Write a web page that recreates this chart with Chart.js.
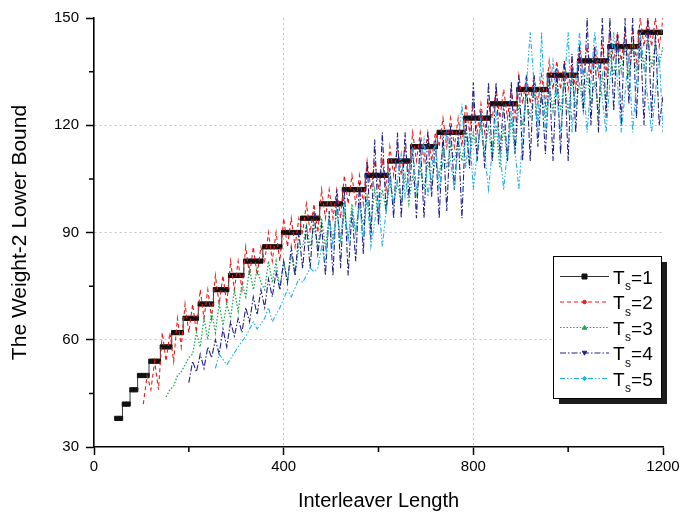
<!DOCTYPE html>
<html><head><meta charset="utf-8">
<script src="https://cdn.jsdelivr.net/npm/chart.js@4.4.1/dist/chart.umd.min.js"></script>
<style>html,body{margin:0;padding:0;background:#fff;}canvas{display:block;}</style>
</head><body>
<canvas id="c" width="683" height="520"></canvas>
<script>
// Interleaver lengths (x categories shared by all series)
const lengths = [
  40,48,56,64,72,80,88,96,104,112,
  120,128,136,144,152,160,168,176,184,192,
  200,208,216,224,232,240,248,256,264,272,
  280,288,296,304,312,320,328,336,344,352,
  360,368,376,384,392,400,408,416,424,432,
  440,448,456,464,472,480,488,496,504,512,
  520,528,536,544,552,560,568,576,584,592,
  600,608,616,624,632,640,648,656,664,672,
  680,688,696,704,712,720,728,736,744,752,
  760,768,776,784,792,800,808,816,824,832,
  840,848,856,864,872,880,888,896,904,912,
  920,928,936,944,952,960,968,976,984,992,
  1000,1008,1016,1024,1032,1040,1048,1056,1064,1072,
  1080,1088,1096,1104,1112,1120,1128,1136,1144,1152,
  1160,1168,1176,1184,1192,1200
];
const _ = null;
// T_s = 1
const ts1 = [
  _,38,38,42,42,46,46,50,50,50,
  54,54,54,58,58,58,62,62,62,66,
  66,66,66,70,70,70,70,74,74,74,
  74,78,78,78,78,82,82,82,82,82,
  86,86,86,86,86,90,90,90,90,90,
  94,94,94,94,94,98,98,98,98,98,
  98,102,102,102,102,102,102,106,106,106,
  106,106,106,110,110,110,110,110,110,114,
  114,114,114,114,114,114,118,118,118,118,
  118,118,118,122,122,122,122,122,122,122,
  126,126,126,126,126,126,126,130,130,130,
  130,130,130,130,130,134,134,134,134,134,
  134,134,134,138,138,138,138,138,138,138,
  138,142,142,142,142,142,142,142,142,146,
  146,146,146,146,146,146
];
// T_s = 2
const ts2 = [
  _,_,_,_,_,_,_,_,42,50,
  46,54,46,62,54,62,54,66,58,70,
  62,70,62,74,66,74,66,78,70,78,
  70,82,74,82,74,86,78,86,78,86,
  82,90,82,90,82,94,86,94,86,94,
  90,98,90,98,90,102,94,102,94,102,
  94,106,98,106,98,106,98,110,102,110,
  102,110,102,114,106,114,106,114,106,118,
  110,118,110,118,110,118,114,122,114,122,
  114,122,114,126,118,126,118,126,118,126,
  122,130,122,130,122,130,122,134,126,134,
  126,134,126,134,126,138,130,138,130,138,
  130,138,130,142,134,142,134,142,134,142,
  134,146,138,146,138,146,138,146,138,150,
  142,150,142,150,142,150
];
// T_s = 3
const ts3 = [
  _,_,_,_,_,_,_,_,_,_,
  _,_,_,_,44,46,47,50,51,53,
  55,56,62,58,66,60,68,62,70,64,
  70,66,74,68,76,72,80,74,80,76,
  74,82,76,82,74,82,76,84,78,86,
  86,92,86,92,86,94,86,94,88,96,
  88,96,88,98,90,98,92,100,92,102,
  94,102,96,104,98,104,98,106,98,106,
  100,108,102,110,104,110,106,114,108,114,
  110,116,110,118,110,118,112,120,112,120,
  110,120,108,120,110,122,112,126,120,128,
  122,130,122,128,122,132,124,133,124,132,
  124,133,125,132,124,134,126,132,124,134,
  126,140,134,142,135,142,134,142,135,143,
  136,144,136,143,137,142
];
// T_s = 4
const ts4 = [
  _,_,_,_,_,_,_,_,_,_,
  _,_,_,_,_,_,_,_,_,_,
  48,54,51,56,52,58,55,60,56,63,
  58,65,61,66,62,69,65,72,67,74,
  69,77,72,79,74,82,76,86,78,90,
  80,92,80,96,84,92,78,96,78,102,
  80,102,78,96,82,104,84,110,88,116,
  92,118,96,108,94,118,94,118,100,114,
  94,116,94,118,100,116,94,118,96,120,
  102,118,94,122,108,132,110,124,108,132,
  110,132,112,126,110,132,112,134,110,134,
  110,134,114,130,112,134,110,136,112,138,
  110,140,118,142,124,150,120,142,118,150,
  122,150,124,146,120,150,126,150,122,146,
  120,150,122,146,120,128
];
// T_s = 5
const ts5 = [
  _,_,_,_,_,_,_,_,_,_,
  _,_,_,_,_,_,_,_,_,_,
  _,_,_,_,_,_,_,52,56,_,
  53,_,_,58,_,61,_,65,63,_,
  66,69,65,_,69,_,74,72,_,77,
  76,_,80,79,80,86,82,94,86,96,
  88,98,88,96,90,98,88,100,86,_,
  100,86,_,106,98,_,112,100,_,114,
  102,_,116,100,_,116,102,_,118,_,
  102,_,126,108,118,102,_,122,_,102,
  _,124,_,102,_,124,_,102,_,_,
  146,_,118,146,118,_,138,_,118,_,
  146,118,_,146,_,118,_,146,_,_,
  118,_,146,_,118,_,140,118,_,146,
  _,_,118,_,140,118
];
const seriesLabels = ['1','2','3','4','5'];
const xMinor = [200,600,1000];
const yMinor = [45,75,105,135];

const FONT = '"Liberation Sans", Arial, Helvetica, sans-serif';
const styles = [
  {color:'#111111', dash:[], marker:'rect', width:1},
  {color:'#f01818', dash:[4,3], marker:'circle', width:1.1},
  {color:'#17a84c', dash:[1.5,1.8], marker:'triangle', width:1.25},
  {color:'#20208a', dash:[6,2,1.5,2], marker:'triangleDown', width:1.1},
  {color:'#1fb0ef', dash:[5,2,1.5,2,1.5,2], marker:'diamond', width:1.1}
];
const toPts = arr => lengths.map((x,i)=>({x:x, y:arr[i]}));
const seriesData = [ts1, ts2, ts3, ts4, ts5];

const datasets = seriesData.map((arr, i) => {
  const st = styles[i];
  if (i === 0) {
    return {label:'T_s='+seriesLabels[i], data: toPts(arr), borderColor:'#3a3a3a', borderWidth:1,
      stepped:'middle', pointStyle:'rect', pointRadius:3, pointBorderWidth:1,
      pointBackgroundColor:'#111', pointBorderColor:'#111', spanGaps:false, order:5};
  }
  return {label:'T_s='+seriesLabels[i], data: toPts(arr), borderColor: st.color, borderWidth: st.width,
    borderDash: st.dash, pointRadius:0, spanGaps:true, tension:0, order:5-i};
});

function marker(ctx, type, x, y, r, color){
  ctx.save();
  ctx.fillStyle = color; ctx.strokeStyle = color; ctx.lineWidth = 1; ctx.setLineDash([]);
  ctx.beginPath();
  if (type === 'rect') { ctx.rect(x-r, y-r, 2*r, 2*r); }
  else if (type === 'circle') { ctx.arc(x, y, r*0.8, 0, Math.PI*2); }
  else if (type === 'triangle') { ctx.moveTo(x, y-r); ctx.lineTo(x+r, y+r*0.8); ctx.lineTo(x-r, y+r*0.8); ctx.closePath(); }
  else if (type === 'triangleDown') { ctx.moveTo(x, y+r); ctx.lineTo(x+r, y-r*0.8); ctx.lineTo(x-r, y-r*0.8); ctx.closePath(); }
  else if (type === 'diamond') { ctx.moveTo(x, y-r); ctx.lineTo(x+r, y); ctx.lineTo(x, y+r); ctx.lineTo(x-r, y); ctx.closePath(); }
  ctx.fill(); ctx.stroke();
  ctx.restore();
}

const minorTicks = {
  id:'minorTicks',
  afterDraw(chart){
    const {ctx, scales:{x, y}} = chart;
    ctx.save();
    ctx.strokeStyle = '#000'; ctx.lineWidth = 1.5; ctx.setLineDash([]);
    ctx.beginPath();
    xMinor.forEach(v => { const px = x.getPixelForValue(v); ctx.moveTo(px, y.bottom); ctx.lineTo(px, y.bottom+5); });
    yMinor.forEach(v => { const py = y.getPixelForValue(v); ctx.moveTo(x.left, py); ctx.lineTo(x.left-5, py); });
    ctx.stroke();
    ctx.restore();
  }
};

const boxLegend = {
  id:'boxLegend',
  afterDraw(chart){
    const ctx = chart.ctx;
    const L = 553, T = 256, W = 108, H = 142;
    ctx.save();
    ctx.fillStyle = '#1c1c1c'; ctx.fillRect(L+6, T+6, W, H);
    ctx.fillStyle = '#fff'; ctx.fillRect(L, T, W, H);
    ctx.strokeStyle = '#000'; ctx.lineWidth = 1; ctx.strokeRect(L+0.5, T+0.5, W, H);
    const rows = [276, 301.5, 327, 352.5, 378];
    styles.forEach((st, i) => {
      const yy = rows[i];
      ctx.save();
      ctx.strokeStyle = i === 0 ? '#333' : st.color; ctx.lineWidth = 1; ctx.setLineDash(st.dash);
      ctx.beginPath(); ctx.moveTo(560, yy+0.5); ctx.lineTo(609, yy+0.5); ctx.stroke();
      ctx.restore();
      marker(ctx, st.marker, 584.5, yy+0.5, i === 0 ? 2.5 : 2.2, st.color);
      ctx.fillStyle = '#000';
      ctx.textBaseline = 'alphabetic'; ctx.textAlign = 'left';
      ctx.font = '19px ' + FONT;
      ctx.fillText('T', 613, yy+7.5);
      const tw = ctx.measureText('T').width;
      ctx.font = '12px ' + FONT;
      ctx.fillText('s', 613+tw+0.5, yy+14);
      const sw = ctx.measureText('s').width;
      ctx.font = '19px ' + FONT;
      ctx.fillText('=' + seriesLabels[i], 613+tw+sw+0.5, yy+7.5);
    });
    ctx.restore();
  }
};

const edgeClear = (c, lo, hi) => (c.tick && (c.tick.value === lo || c.tick.value === hi)) ? 'rgba(0,0,0,0)' : '#c4c4c4';

new Chart(document.getElementById('c'), {
  type:'line',
  data:{ datasets },
  options:{
    responsive:false, devicePixelRatio:1, animation:false,
    layout:{ padding:{ left:0, right:20, top:18, bottom:0 } },
    plugins:{ legend:{display:false}, tooltip:{enabled:false} },
    scales:{
      x:{
        type:'linear', min:0, max:1200,
        ticks:{ stepSize:400, color:'#000', font:{family:FONT, size:15}, padding:3, maxRotation:0, autoSkip:false,
                callback: v => String(v) },
        grid:{ color: c => edgeClear(c, 0, 1200), lineWidth:1, tickLength:8, tickColor:'#000', tickWidth:1.5 },
        border:{ display:true, color:'#000', width:1.6, dash:[2,3] },
        title:{ display:true, text:'Interleaver Length', color:'#000', font:{family:FONT, size:20}, padding:{top:0, bottom:7} },
        afterFit: s => { s.height = 73; }
      },
      y:{
        type:'linear', min:30, max:150,
        ticks:{ stepSize:30, color:'#000', font:{family:FONT, size:15}, padding:7, callback: v => String(v) },
        grid:{ color: c => edgeClear(c, 30, 150), lineWidth:1, tickLength:8, tickColor:'#000', tickWidth:1.5 },
        border:{ display:true, color:'#000', width:1.6, dash:[2,3] },
        title:{ display:true, text:'The Weight-2 Lower Bound', color:'#000', font:{family:FONT, size:21}, padding:{top:8, bottom:0} },
        afterFit: s => { s.width = 94; }
      }
    }
  },
  plugins:[minorTicks, boxLegend]
});
</script>
</body></html>
